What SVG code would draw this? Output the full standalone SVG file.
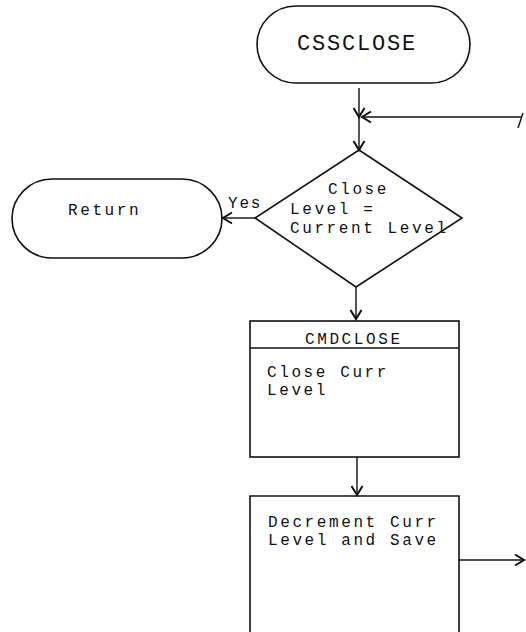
<svg xmlns="http://www.w3.org/2000/svg" width="526" height="632" viewBox="0 0 526 632">
<style>
.s{fill:none;stroke:#111;stroke-width:1.6}
.c{fill:none;stroke:#111;stroke-width:1.4}
text{font-family:"Liberation Mono","Courier New",monospace;fill:#111;font-size:16px;letter-spacing:2.6px}
</style>
<defs>
<marker id="a" markerWidth="14" markerHeight="14" refX="12" refY="7" orient="auto" markerUnits="userSpaceOnUse">
<path d="M3,1.5 L12,7 L3,12.5" fill="none" stroke="#111" stroke-width="2"/>
</marker>
</defs>
<rect width="526" height="632" fill="#fff"/>
<g id="connectors">
<line class="c" x1="359" y1="88" x2="359" y2="117" marker-end="url(#a)"/>
<line class="c" x1="359" y1="117" x2="359" y2="150" marker-end="url(#a)"/>
<line class="c" x1="522" y1="117" x2="362" y2="117" marker-end="url(#a)"/>
<line class="c" x1="518" y1="128" x2="523" y2="113"/>
<line class="c" x1="255" y1="218" x2="223" y2="218" marker-end="url(#a)"/>
<line class="c" x1="356" y1="287" x2="356" y2="319" marker-end="url(#a)"/>
<line class="c" x1="357" y1="457" x2="357" y2="495" marker-end="url(#a)"/>
<line class="c" x1="459" y1="560" x2="524" y2="560" marker-end="url(#a)"/>
<text x="228" y="208" style="letter-spacing:1.8px">Yes</text>
</g>
<g id="start">
<rect class="s" x="257" y="6" width="213" height="77" rx="39" ry="38.5"/>
<text x="297" y="50" style="font-size:22px;letter-spacing:1.8px">CSSCLOSE</text>
</g>
<g id="decision">
<polygon class="s" points="359,150 462,218 356,287 255,218"/>
<text x="328" y="194">Close</text>
<text x="290" y="214">Level =</text>
<text x="290" y="233">Current Level</text>
</g>
<g id="return">
<rect class="s" x="12" y="179" width="210" height="79" rx="40" ry="39.5"/>
<text x="68" y="215">Return</text>
</g>
<g id="cmdclose">
<rect class="s" x="250" y="321" width="209" height="136"/>
<line class="s" x1="250" y1="348" x2="459" y2="348"/>
<text x="305" y="344">CMDCLOSE</text>
<text x="267" y="377">Close Curr</text>
<text x="267" y="395">Level</text>
</g>
<g id="decrement">
<path class="s" d="M250,640 V496 H459 V640"/>
<text x="268" y="527">Decrement Curr</text>
<text x="268" y="545">Level and Save</text>
</g>
</svg>
